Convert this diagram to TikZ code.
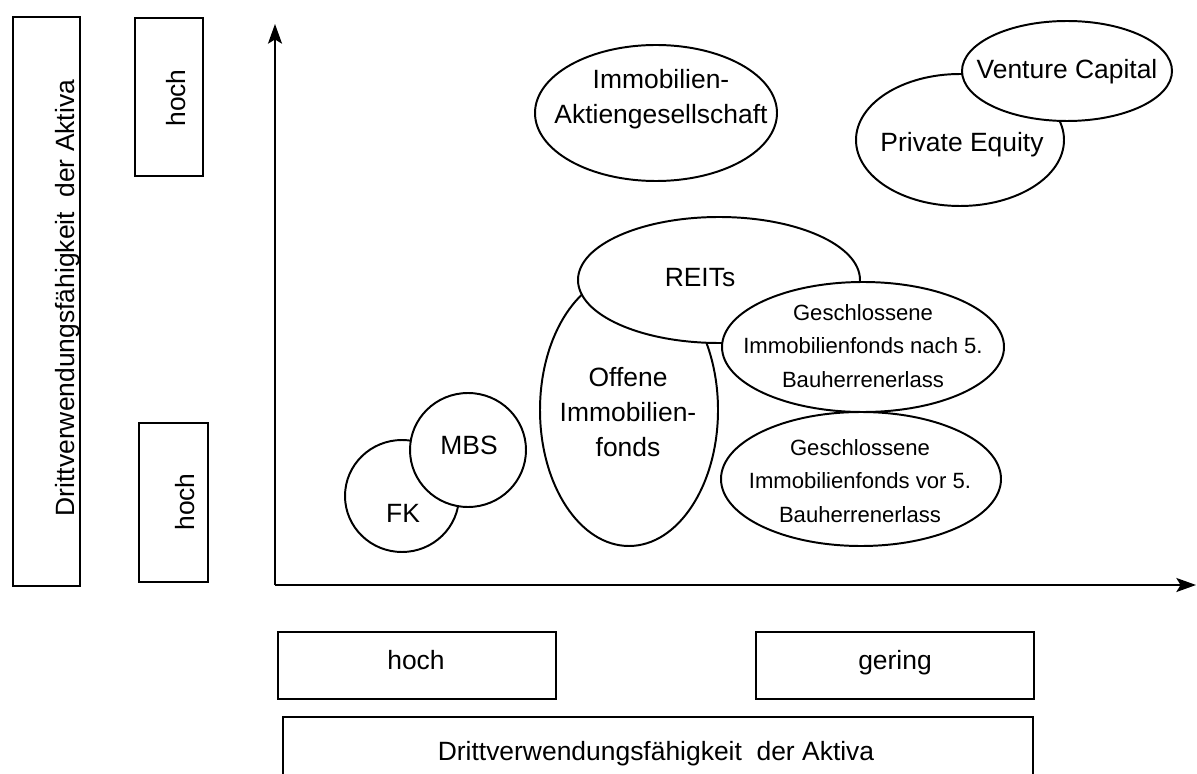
\documentclass[tikz,border=0pt]{standalone}
\usepackage{fontspec}
\setmainfont{Liberation Sans}
\usetikzlibrary{shapes.geometric,arrows.meta}
\newlength\pxl
\setlength\pxl{0.025cm}

\begin{document}
\begin{tikzpicture}
[x=\pxl, y=-\pxl,
 bigtext/.style={font=\fontsize{18.8}{24.7}\selectfont, align=center},
 smalltext/.style={font=\fontsize{15.7}{23.8}\selectfont, align=center},
 frame/.style={line width=2pt},
 blob/.style={ellipse, draw, fill=white, line width=1.4pt, inner sep=0pt},
 axis/.style={line width=1.1pt, -{Stealth[length=14pt,width=10pt,inset=3pt]}}]
\useasboundingbox (0,0) rectangle (1197,774);
%% frames left and below
\draw[frame] (13,17) rectangle (80,586);
\draw[frame] (135,18) rectangle (203,176);
\draw[frame] (139,423) rectangle (208,582);
\draw[frame] (278,632) rectangle (556,699);
\draw[frame] (756,632) rectangle (1034,699);
\draw[frame] (283,717) rectangle (1033,800);
\node[bigtext, rotate=90, anchor=base] (ylabel) at (74,298) {Drittverwendungsfähigkeit\ \ der Aktiva};
\node[bigtext, rotate=90, anchor=base] (yhoch) at (185,98) {hoch};
\node[bigtext, rotate=90, anchor=base] (ygering) at (194,502) {hoch};
\node[bigtext, anchor=base] (xhoch) at (416,669) {hoch};
\node[bigtext, anchor=base] (xgering) at (895,669) {gering};
\node[bigtext, anchor=base] (xlabel) at (656,760) {Drittverwendungsfähigkeit\ \ der Aktiva};
%% axes
\coordinate (origin) at (275,585);
\coordinate (ytip) at (275,24);
\coordinate (xtip) at (1196,585);
\draw[axis] (origin) -- (ytip);
\draw[axis] (origin) -- (xtip);
%% the ellipses, back to front
\foreach \name/\cx/\cy/\rx/\ry in {aktien/656/113/121/68, pe/960/140/104/66,
    vc/1067/71/105/50, offene/629/410/89/136, reits/719/280/141/63,
    gvor/861/479/140/67, gnach/863/347/141/65, fk/402/496/57/56,
    mbs/468/450/58/57}
  \node[blob, minimum width=2*\rx*\pxl, minimum height=2*\ry*\pxl]
    (\name) at (\cx,\cy) {};
%% texts in the ellipses
\node[bigtext] (aktientxt) at (661,99) {Immobilien-\\Aktiengesellschaft};
\node[bigtext] (petxt) at (962,145) {Private Equity};
\node[bigtext] (vctxt) at (1067,72) {Venture Capital};
\node[bigtext] (reitstxt) at (700,278) {REITs};
\node[bigtext] (offenetxt) at (628,412) {Offene\\Immobilien-\\fonds};
\node[smalltext] (gnachtxt) at (863,346) {Geschlossene\\Immobilienfonds nach 5.\\Bauherrenerlass};
\node[smalltext] (gvortxt) at (860,481) {Geschlossene\\Immobilienfonds vor 5.\\Bauherrenerlass};
\node[bigtext] (fktxt) at (403,513) {FK};
\node[bigtext] (mbstxt) at (469,445) {MBS};
\end{tikzpicture}
\end{document}
